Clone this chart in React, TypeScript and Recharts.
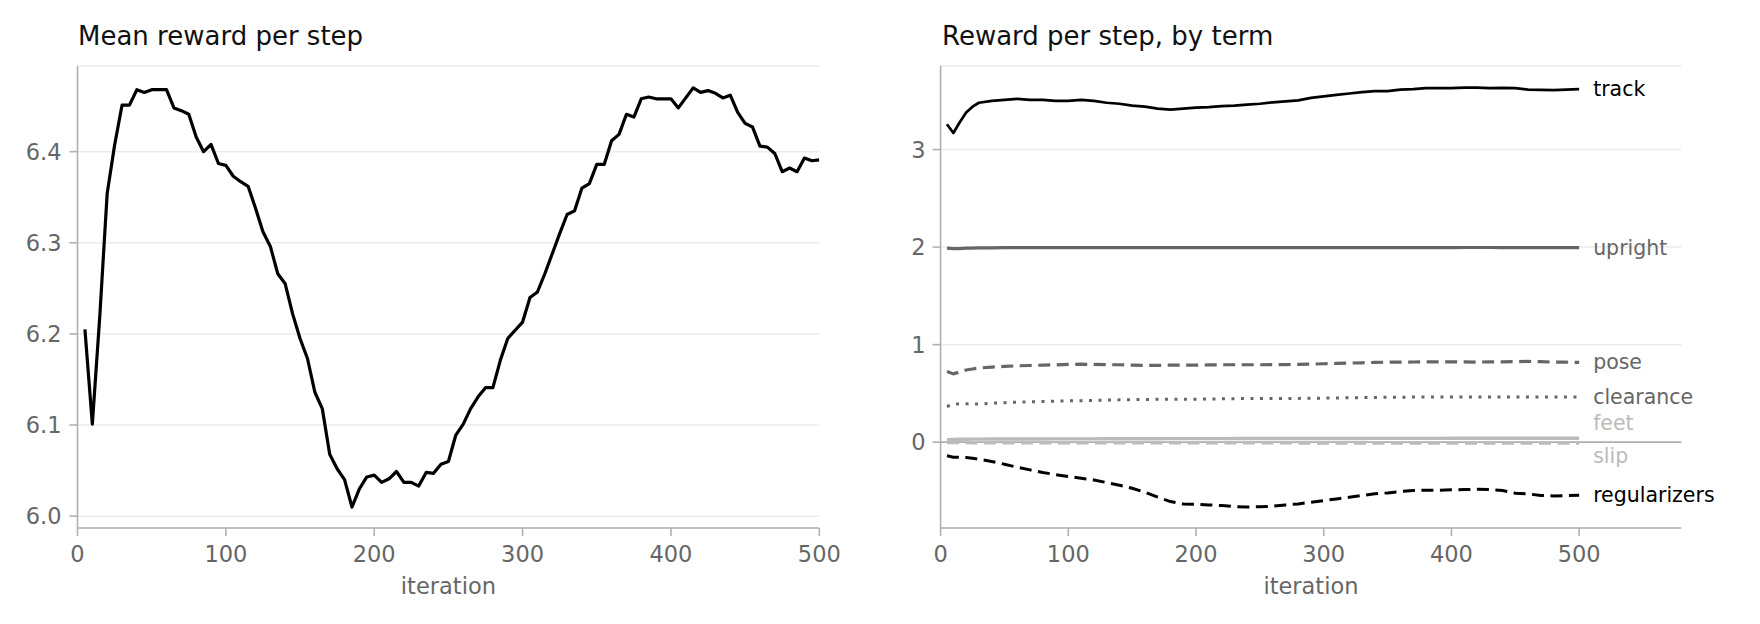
import React from 'react';
import { LineChart, Line, XAxis, YAxis, CartesianGrid, ReferenceLine } from 'recharts';

// ---- left panel: mean reward per step ----
const meanIters = [
  5, 10, 15, 20, 25, 30, 35, 40, 45, 50,
  55, 60, 65, 70, 75, 80, 85, 90, 95, 100,
  105, 110, 115, 120, 125, 130, 135, 140, 145, 150,
  155, 160, 165, 170, 175, 180, 185, 190, 195, 200,
  205, 210, 215, 220, 225, 230, 235, 240, 245, 250,
  255, 260, 265, 270, 275, 280, 285, 290, 295, 300,
  305, 310, 315, 320, 325, 330, 335, 340, 345, 350,
  355, 360, 365, 370, 375, 380, 385, 390, 395, 400,
  405, 410, 415, 420, 425, 430, 435, 440, 445, 450,
  455, 460, 465, 470, 475, 480, 485, 490, 495, 500,
];
const meanReward = [
  6.205, 6.101, 6.219, 6.354, 6.407, 6.451, 6.451, 6.468, 6.465, 6.468,
  6.468, 6.468, 6.448, 6.445, 6.441, 6.416, 6.400, 6.408, 6.387, 6.385,
  6.373, 6.367, 6.362, 6.338, 6.312, 6.296, 6.266, 6.255, 6.222, 6.195,
  6.173, 6.136, 6.118, 6.068, 6.052, 6.040, 6.010, 6.030, 6.043, 6.045,
  6.037, 6.041, 6.049, 6.037, 6.037, 6.033, 6.048, 6.047, 6.057, 6.060,
  6.089, 6.101, 6.118, 6.131, 6.141, 6.141, 6.171, 6.195, 6.204, 6.213,
  6.240, 6.246, 6.266, 6.288, 6.310, 6.331, 6.335, 6.360, 6.365, 6.386,
  6.386, 6.412, 6.419, 6.441, 6.438, 6.458, 6.460, 6.458, 6.458, 6.458,
  6.448, 6.459, 6.470, 6.465, 6.467, 6.464, 6.459, 6.462, 6.443, 6.431,
  6.427, 6.406, 6.405, 6.398, 6.378, 6.382, 6.378, 6.393, 6.390, 6.391,
];
const meanTicksX = [0, 100, 200, 300, 400, 500];
const meanTicksY = [6.0, 6.1, 6.2, 6.3, 6.4];

// ---- right panel: reward per step, by term ----
const termIters = [
  5, 10, 15, 20, 25, 30, 40, 50, 60, 70,
  80, 90, 100, 110, 120, 130, 140, 150, 160, 170,
  180, 190, 200, 210, 220, 230, 240, 250, 260, 270,
  280, 290, 300, 310, 320, 330, 340, 350, 360, 370,
  380, 390, 400, 410, 420, 430, 440, 450, 460, 470,
  480, 490, 500,
];
const track = [
  3.26, 3.17, 3.28, 3.38, 3.44, 3.48, 3.50, 3.51, 3.52, 3.51,
  3.51, 3.50, 3.50, 3.51, 3.50, 3.48, 3.47, 3.45, 3.44, 3.42,
  3.41, 3.42, 3.43, 3.435, 3.445, 3.45, 3.46, 3.47, 3.485, 3.495,
  3.505, 3.53, 3.545, 3.56, 3.575, 3.59, 3.60, 3.60, 3.615, 3.62,
  3.63, 3.63, 3.63, 3.635, 3.635, 3.63, 3.632, 3.63, 3.615, 3.612,
  3.61, 3.615, 3.62,
];
const upright = [
  1.99, 1.985, 1.985, 1.99, 1.99, 1.992, 1.993, 1.994, 1.995, 1.995,
  1.995, 1.995, 1.995, 1.995, 1.995, 1.994, 1.994, 1.994, 1.994, 1.994,
  1.994, 1.995, 1.995, 1.995, 1.994, 1.994, 1.995, 1.995, 1.995, 1.995,
  1.995, 1.995, 1.995, 1.995, 1.995, 1.995, 1.995, 1.995, 1.995, 1.995,
  1.995, 1.995, 1.995, 1.996, 1.996, 1.996, 1.995, 1.995, 1.995, 1.995,
  1.995, 1.995, 1.995,
];
const pose = [
  0.725, 0.70, 0.72, 0.74, 0.75, 0.76, 0.77, 0.777, 0.783, 0.786,
  0.79, 0.793, 0.797, 0.80, 0.797, 0.794, 0.794, 0.79, 0.787, 0.787,
  0.79, 0.79, 0.79, 0.792, 0.794, 0.794, 0.794, 0.794, 0.795, 0.796,
  0.797, 0.80, 0.804, 0.807, 0.811, 0.814, 0.818, 0.82, 0.821, 0.822,
  0.824, 0.824, 0.824, 0.823, 0.821, 0.823, 0.824, 0.826, 0.828, 0.825,
  0.821, 0.82, 0.818,
];
const clearance = [
  0.366, 0.39, 0.393, 0.393, 0.392, 0.39, 0.40, 0.405, 0.41, 0.414,
  0.417, 0.42, 0.424, 0.426, 0.428, 0.431, 0.434, 0.436, 0.438, 0.439,
  0.44, 0.44, 0.441, 0.443, 0.444, 0.446, 0.447, 0.448, 0.448, 0.448,
  0.449, 0.45, 0.452, 0.454, 0.455, 0.457, 0.458, 0.46, 0.461, 0.462,
  0.462, 0.462, 0.462, 0.462, 0.462, 0.462, 0.462, 0.462, 0.462, 0.462,
  0.462, 0.462, 0.462,
];
const feet = [
  0.025, 0.028, 0.03, 0.03, 0.031, 0.031, 0.032, 0.032, 0.033, 0.033,
  0.033, 0.034, 0.034, 0.034, 0.034, 0.035, 0.035, 0.035, 0.035, 0.035,
  0.036, 0.036, 0.036, 0.036, 0.036, 0.037, 0.037, 0.037, 0.037, 0.037,
  0.038, 0.038, 0.038, 0.038, 0.038, 0.038, 0.039, 0.039, 0.039, 0.039,
  0.039, 0.039, 0.04, 0.04, 0.04, 0.04, 0.04, 0.04, 0.04, 0.04,
  0.04, 0.04, 0.04,
];
const slip = [
  -0.005, -0.006, -0.007, -0.007, -0.008, -0.008, -0.008, -0.008, -0.008, -0.008,
  -0.008, -0.008, -0.009, -0.009, -0.009, -0.009, -0.009, -0.009, -0.009, -0.009,
  -0.009, -0.009, -0.009, -0.009, -0.009, -0.009, -0.009, -0.009, -0.009, -0.009,
  -0.01, -0.01, -0.01, -0.01, -0.01, -0.01, -0.01, -0.01, -0.01, -0.01,
  -0.01, -0.01, -0.01, -0.01, -0.01, -0.01, -0.01, -0.01, -0.01, -0.01,
  -0.01, -0.01, -0.01,
];
const regularizers = [
  -0.14, -0.154, -0.156, -0.157, -0.165, -0.174, -0.198, -0.226, -0.257, -0.284,
  -0.311, -0.332, -0.352, -0.369, -0.387, -0.414, -0.441, -0.472, -0.513, -0.564,
  -0.609, -0.633, -0.636, -0.643, -0.65, -0.66, -0.664, -0.662, -0.657, -0.643,
  -0.633, -0.616, -0.599, -0.582, -0.565, -0.547, -0.53, -0.52, -0.506, -0.496,
  -0.493, -0.492, -0.489, -0.486, -0.482, -0.486, -0.496, -0.523, -0.53, -0.547,
  -0.551, -0.547, -0.544,
];
const termTicksX = [0, 100, 200, 300, 400, 500];
const termTicksY = [0, 1, 2, 3];

const meanData = meanIters.map((it, i) => ({ iteration: it, reward: meanReward[i] }));
const termData = termIters.map((it, i) => ({
  iteration: it,
  track: track[i],
  upright: upright[i],
  pose: pose[i],
  clearance: clearance[i],
  feet: feet[i],
  slip: slip[i],
  regularizers: regularizers[i],
}));

const FONT = 'DejaVu Sans';
const AXIS = '#b0b0b0';
const TICK_TEXT = '#666666';
const GRID = '#ebebeb';

const Y_AXIS_W = 60;
const X_AXIS_H = 60;

const tickStyle = { fill: TICK_TEXT, fontSize: 22.5, fontFamily: FONT };
const axisLineStyle = { stroke: AXIS, strokeWidth: 1.6 };

// label drawn at the last point of a series
const endLabel = (name: string, color: string, dy: number, last: number) => (props: any) => {
  if (props.index !== last) return null;
  return (
    <text
      key={name}
      x={props.x + 14}
      y={props.y + dy + 7}
      fill={color}
      fontSize={20.5}
      fontFamily={FONT}
    >
      {name}
    </text>
  );
};

const xLabel = (props: any) => {
  const vb = props.viewBox;
  return (
    <text
      x={vb.x + vb.width / 2}
      y={vb.y + 66}
      textAnchor="middle"
      fill={TICK_TEXT}
      fontSize={22.5}
      fontFamily={FONT}
    >
      iteration
    </text>
  );
};

const MeanChart: React.FC = () => (
  <LineChart
    width={880}
    height={624}
    data={meanData}
    margin={{ top: 66, right: 60.7, bottom: 96 - X_AXIS_H, left: 77.5 - Y_AXIS_W }}
  >
    <CartesianGrid vertical={false} stroke={GRID} strokeWidth={1.5} />
    <XAxis
      type="number"
      dataKey="iteration"
      domain={[0, 500]}
      ticks={meanTicksX}
      height={X_AXIS_H}
      tickSize={8}
      tickMargin={10.5}
      tick={tickStyle}
      tickLine={axisLineStyle}
      axisLine={axisLineStyle}
      label={{ content: xLabel }}
      allowDataOverflow
    />
    <YAxis
      type="number"
      domain={[5.987, 6.494]}
      ticks={meanTicksY}
      width={Y_AXIS_W}
      tickSize={8}
      tickMargin={8}
      tick={tickStyle}
      tickLine={axisLineStyle}
      axisLine={axisLineStyle}
      tickFormatter={(v: number) => v.toFixed(1)}
      allowDataOverflow
    />
    <Line
      type="linear"
      dataKey="reward"
      stroke="#000"
      strokeWidth={3.2}
      strokeLinejoin="round"
      dot={false}
      isAnimationActive={false}
    />
  </LineChart>
);

const last = termIters.length - 1;

const TermChart: React.FC = () => (
  <LineChart
    width={880}
    height={624}
    data={termData}
    margin={{ top: 66, right: 78.7, bottom: 96 - X_AXIS_H, left: 60.6 - Y_AXIS_W }}
  >
    <CartesianGrid vertical={false} stroke={GRID} strokeWidth={1.5} />
    <ReferenceLine y={0} stroke={AXIS} strokeWidth={1.6} />
    <XAxis
      type="number"
      dataKey="iteration"
      domain={[0, 580]}
      ticks={termTicksX}
      height={X_AXIS_H}
      tickSize={8}
      tickMargin={10.5}
      tick={tickStyle}
      tickLine={axisLineStyle}
      axisLine={axisLineStyle}
      label={{ content: xLabel }}
      allowDataOverflow
    />
    <YAxis
      type="number"
      domain={[-0.88, 3.857]}
      ticks={termTicksY}
      width={Y_AXIS_W}
      tickSize={8}
      tickMargin={7}
      tick={tickStyle}
      tickLine={axisLineStyle}
      axisLine={axisLineStyle}
      allowDataOverflow
    />
    <Line type="linear" dataKey="feet" stroke="#bbbbbb" strokeWidth={3.4}
      dot={false} isAnimationActive={false} label={endLabel('feet', '#bbbbbb', -15, last)} />
    <Line type="linear" dataKey="slip" stroke="#bbbbbb" strokeWidth={3} strokeDasharray="12 6.5"
      dot={false} isAnimationActive={false} label={endLabel('slip', '#bbbbbb', 13, last)} />
    <Line type="linear" dataKey="clearance" stroke="#666666" strokeWidth={3} strokeDasharray="3 6.5"
      dot={false} isAnimationActive={false} label={endLabel('clearance', '#666666', 0, last)} />
    <Line type="linear" dataKey="pose" stroke="#666666" strokeWidth={3.2} strokeDasharray="12 6.5"
      dot={false} isAnimationActive={false} label={endLabel('pose', '#666666', 0, last)} />
    <Line type="linear" dataKey="upright" stroke="#666666" strokeWidth={3.2}
      dot={false} isAnimationActive={false} label={endLabel('upright', '#666666', 0, last)} />
    <Line type="linear" dataKey="regularizers" stroke="#000" strokeWidth={3} strokeDasharray="12 6.5"
      dot={false} isAnimationActive={false} label={endLabel('regularizers', '#000', 0, last)} />
    <Line type="linear" dataKey="track" stroke="#000" strokeWidth={2.7} strokeLinejoin="round"
      dot={false} isAnimationActive={false} label={endLabel('track', '#000', 0, last)} />
  </LineChart>
);

export default function App() {
  return (
    <div
      style={{
        position: 'absolute',
        left: 0,
        top: 0,
        width: 1760,
        height: 624,
        background: '#fff',
        fontFamily: FONT,
        overflow: 'hidden',
      }}
    >
      <div style={{ position: 'absolute', left: 0, top: 0 }}>
        <MeanChart />
      </div>
      <div style={{ position: 'absolute', left: 880, top: 0 }}>
        <TermChart />
      </div>
      <svg
        width={1760}
        height={624}
        style={{ position: 'absolute', left: 0, top: 0, pointerEvents: 'none' }}
      >
        <text x={78} y={45} fontSize={26} fontFamily={FONT} fill="#111">
          Mean reward per step
        </text>
        <text x={942} y={45} fontSize={26} fontFamily={FONT} fill="#111">
          Reward per step, by term
        </text>
      </svg>
    </div>
  );
}
